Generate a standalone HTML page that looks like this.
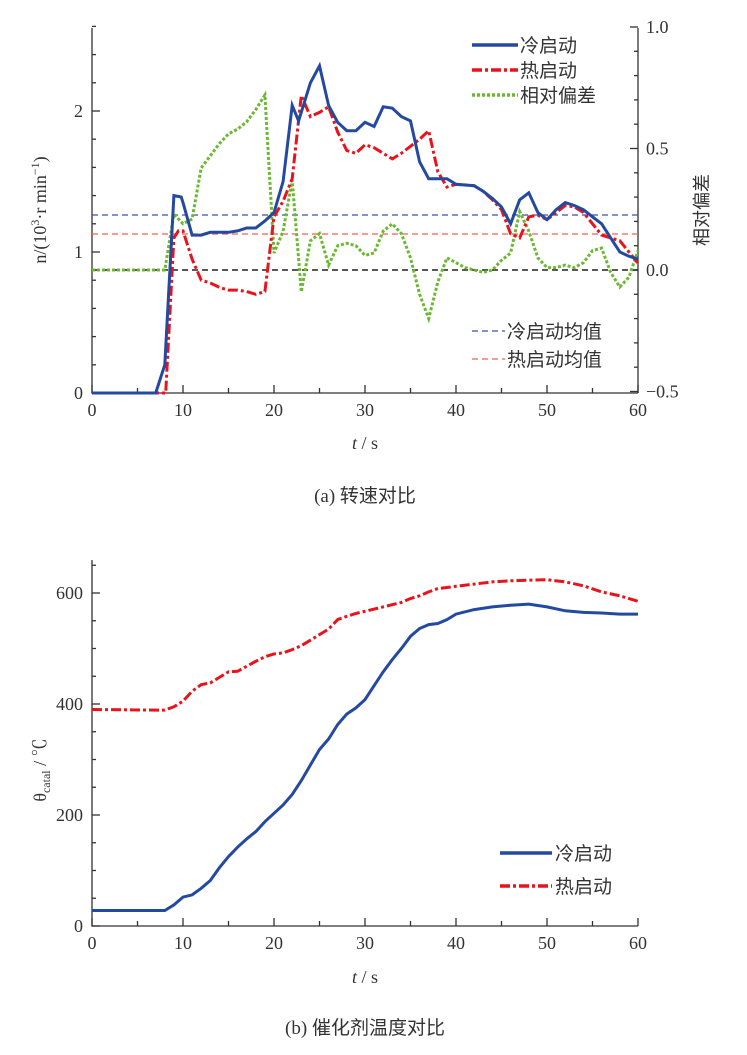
<!DOCTYPE html>
<html><head><meta charset="utf-8"><style>
body{margin:0;background:#fff;}
svg{display:block;font-family:"Liberation Serif","Noto Serif CJK SC",serif;}
text{fill:#333;}
.cj{font-family:"Liberation Sans","Noto Sans CJK SC",sans-serif;}
</style></head><body>
<svg id="s" width="747" height="1055" viewBox="0 0 747 1055" xmlns="http://www.w3.org/2000/svg"></svg>
<script>
const s=document.getElementById('s');let h='';
const X=t=>92+t*9.1;
const YL=n=>393-n*141, YR=r=>270-r*243, YB=v=>926-v*0.555;
function path(d,yf,st){return '<path fill="none" d="M'+d.map(p=>X(p[0]).toFixed(1)+','+yf(p[1]).toFixed(1)).join('L')+'" '+st+'/>';}
h+='<g stroke="#333" stroke-width="1.3" fill="none"><path d="M92,28V393H638M638,28V393"/>';
for(let t=0;t<=60;t+=5)h+=`<line x1="${X(t)}" y1="393" x2="${X(t)}" y2="${t%10?388:385}"/>`;
for(let n=0;n<=2.61;n+=0.2){let y=YL(n);h+=`<line x1="92" y1="${y}" x2="${Math.abs(n-Math.round(n))<0.01?100:96}" y2="${y}"/>`;}
for(let r=-0.5;r<=1.001;r+=0.1){let y=YR(r);h+=`<line x1="638" y1="${y}" x2="${Math.abs(r*2-Math.round(r*2))<0.01?630:634}" y2="${y}"/>`;}
h+='</g>';
for(let t=0;t<=60;t+=10)h+=`<text x="${X(t)}" y="416" font-size="18" text-anchor="middle">${t}</text>`;
[[0,'0'],[1,'1'],[2,'2']].forEach(a=>h+=`<text x="83" y="${YL(a[0])+6}" font-size="18" text-anchor="end">${a[1]}</text>`);
[[1,'1.0'],[0.5,'0.5'],[0,'0.0'],[-0.5,'−0.5']].forEach(a=>h+=`<text x="646" y="${YR(a[0])+6}" font-size="18">${a[1]}</text>`);
h+='<text transform="translate(46,210) rotate(-90)" font-size="18" text-anchor="middle">n/(10<tspan font-size="12" dy="-7">3</tspan><tspan dy="7">·r min</tspan><tspan font-size="12" dy="-7">−1</tspan><tspan dy="7">)</tspan></text>';
h+='<text class="cj" transform="translate(708,210) rotate(-90)" font-size="18" text-anchor="middle">相对偏差</text>';
h+='<text x="365" y="449" font-size="18" text-anchor="middle"><tspan font-style="italic">t</tspan> / s</text>';
h+='<text x="365" y="502" font-size="19" text-anchor="middle">(a)  <tspan class="cj">转速对比</tspan></text>';
h+='<line x1="92" x2="638" y1="215" y2="215" stroke="#3a50a8" stroke-width="1.2" stroke-dasharray="6,4"/>';
h+='<line x1="92" x2="638" y1="234" y2="234" stroke="#f06050" stroke-width="1.2" stroke-dasharray="6,4"/>';
h+='<line x1="92" x2="638" y1="270" y2="270" stroke="#222" stroke-width="1.4" stroke-dasharray="6,4"/>';
const cold=[[0,0],[7,0],[8,0.2],[9,1.4],[9.8,1.39],[10,1.35],[11,1.12],[12,1.12],[13,1.14],[15,1.14],[16,1.15],[17,1.17],[18,1.17],[19,1.22],[20,1.28],[21,1.5],[22,2.04],[22.7,1.93],[24,2.2],[25,2.32],[26,2.04],[27,1.92],[28,1.86],[29,1.86],[30,1.92],[31,1.89],[32,2.03],[33,2.02],[34,1.96],[35,1.93],[36,1.64],[37,1.52],[39,1.52],[40,1.48],[42,1.47],[43,1.43],[44,1.38],[45,1.32],[46,1.2],[47,1.37],[48,1.42],[49,1.28],[50,1.23],[51,1.3],[52,1.35],[53,1.33],[54,1.3],[55,1.25],[56,1.2],[57,1.1],[58,1.0],[59,0.97],[60,0.95]];
const hot=[[0,0],[8.1,0],[9,1.1],[9.5,1.15],[10,1.15],[11,0.95],[12,0.8],[13,0.78],[14,0.75],[15,0.73],[16,0.73],[17,0.72],[18,0.7],[19,0.72],[20,1.25],[21,1.36],[22,1.52],[23,2.11],[24,1.96],[25,1.99],[26,2.03],[27,1.85],[28,1.72],[29,1.7],[30,1.76],[31,1.74],[32,1.7],[33,1.66],[34,1.7],[35,1.75],[36,1.8],[37,1.86],[38,1.57],[39,1.46],[40,1.48],[42,1.47],[43,1.43],[44,1.37],[45,1.3],[46,1.13],[47,1.1],[48,1.25],[49,1.26],[50,1.23],[51,1.28],[52,1.33],[53,1.32],[54,1.28],[55,1.2],[56,1.12],[57,1.1],[58,1.08],[59,1.0],[60,0.92]];
const rel=[[0,0],[8,0],[9,0.23],[10,0.19],[11,0.21],[12,0.42],[13,0.47],[14,0.52],[15,0.56],[16,0.58],[17,0.61],[18,0.66],[19,0.72],[20,0.07],[21,0.16],[22,0.37],[23,-0.09],[24,0.12],[25,0.15],[26,0.02],[27,0.1],[28,0.11],[29,0.1],[30,0.06],[31,0.07],[32,0.16],[33,0.19],[34,0.15],[35,0.05],[36,-0.1],[37,-0.2],[38,-0.05],[39,0.05],[40,0.03],[41,0.01],[42,0],[43,-0.01],[44,0],[45,0.04],[46,0.07],[47,0.24],[48,0.16],[49,0.05],[50,0.01],[51,0.01],[52,0.02],[53,0.01],[54,0.03],[55,0.08],[56,0.09],[57,-0.01],[58,-0.07],[59,-0.03],[60,0.08]];
h+=path(rel,YR,'stroke="#6cb832" stroke-width="3" stroke-dasharray="3,2"');
h+=path(hot,YL,'stroke="#e8141c" stroke-width="3" stroke-dasharray="10,3,3,3"');
h+=path(cold,YL,'stroke="#2449a0" stroke-width="3"');
h+='<line x1="472" x2="518" y1="45" y2="45" stroke="#2449a0" stroke-width="3.5"/>';
h+='<line x1="472" x2="518" y1="70" y2="70" stroke="#e8141c" stroke-width="3.5" stroke-dasharray="10,3,3,3"/>';
h+='<line x1="472" x2="518" y1="95" y2="95" stroke="#6cb832" stroke-width="3.5" stroke-dasharray="3,2"/>';
['冷启动','热启动','相对偏差'].forEach((t,i)=>h+=`<text class="cj" x="520" y="${52+i*25}" font-size="19">${t}</text>`);
h+='<line x1="472" x2="505" y1="331" y2="331" stroke="#3a50a8" stroke-width="1.2" stroke-dasharray="6,4"/>';
h+='<line x1="472" x2="505" y1="359" y2="359" stroke="#f06050" stroke-width="1.2" stroke-dasharray="6,4"/>';
h+='<text class="cj" x="507" y="338" font-size="19">冷启动均值</text><text class="cj" x="507" y="366" font-size="19">热启动均值</text>';
h+='<g stroke="#333" stroke-width="1.3" fill="none"><path d="M92,560V926H638"/>';
for(let t=0;t<=60;t+=5)h+=`<line x1="${X(t)}" y1="926" x2="${X(t)}" y2="${t%10?921:918}"/>`;
for(let v=0;v<=650;v+=50){let y=YB(v);h+=`<line x1="92" y1="${y}" x2="${v%200?96:100}" y2="${y}"/>`;}
h+='</g>';
for(let t=0;t<=60;t+=10)h+=`<text x="${X(t)}" y="949" font-size="18" text-anchor="middle">${t}</text>`;
[0,200,400,600].forEach(v=>h+=`<text x="83" y="${YB(v)+6}" font-size="18" text-anchor="end">${v}</text>`);
h+='<text transform="translate(46,770) rotate(-90)" font-size="18" text-anchor="middle">θ<tspan font-size="12" dy="4">catal</tspan><tspan dy="-4"> / ℃</tspan></text>';
h+='<text x="365" y="983" font-size="18" text-anchor="middle"><tspan font-style="italic">t</tspan> / s</text>';
h+='<text x="365" y="1034" font-size="19" text-anchor="middle">(b)  <tspan class="cj">催化剂温度对比</tspan></text>';
const ct=[[0,28],[8,28],[9,38],[10,52],[11,56],[12,68],[13,82],[14,105],[15,125],[16,142],[17,157],[18,170],[19,188],[20,203],[21,218],[22,237],[23,262],[24,290],[25,318],[26,337],[27,363],[28,382],[29,393],[30,408],[31,433],[32,458],[33,480],[34,500],[35,522],[36,536],[37,543],[38,545],[39,552],[40,562],[42,570],[44,575],[46,578],[48,580],[50,575],[52,568],[54,565],[56,564],[58,562],[60,562]];
const ht=[[0,390],[7,389],[8,389],[9,395],[10,405],[11,423],[12,435],[13,438],[14,448],[15,458],[16,459],[17,468],[18,477],[19,485],[20,490],[21,492],[22,498],[23,505],[24,515],[25,525],[26,535],[27,552],[28,558],[29,563],[30,567],[32,575],[34,583],[35,590],[36,595],[37,602],[38,608],[40,612],[42,616],[44,620],[46,622],[48,623],[50,624],[52,620],[54,613],[56,602],[58,595],[60,585]];
h+=path(ht,YB,'stroke="#e8141c" stroke-width="3" stroke-dasharray="10,3,3,3"');
h+=path(ct,YB,'stroke="#2449a0" stroke-width="3"');
h+='<line x1="500" x2="552" y1="853" y2="853" stroke="#2449a0" stroke-width="3.5"/>';
h+='<line x1="500" x2="552" y1="886" y2="886" stroke="#e8141c" stroke-width="3.5" stroke-dasharray="10,3,3,3"/>';
h+='<text class="cj" x="555" y="860" font-size="19">冷启动</text><text class="cj" x="555" y="893" font-size="19">热启动</text>';
s.innerHTML=h;
</script>
</body></html>
